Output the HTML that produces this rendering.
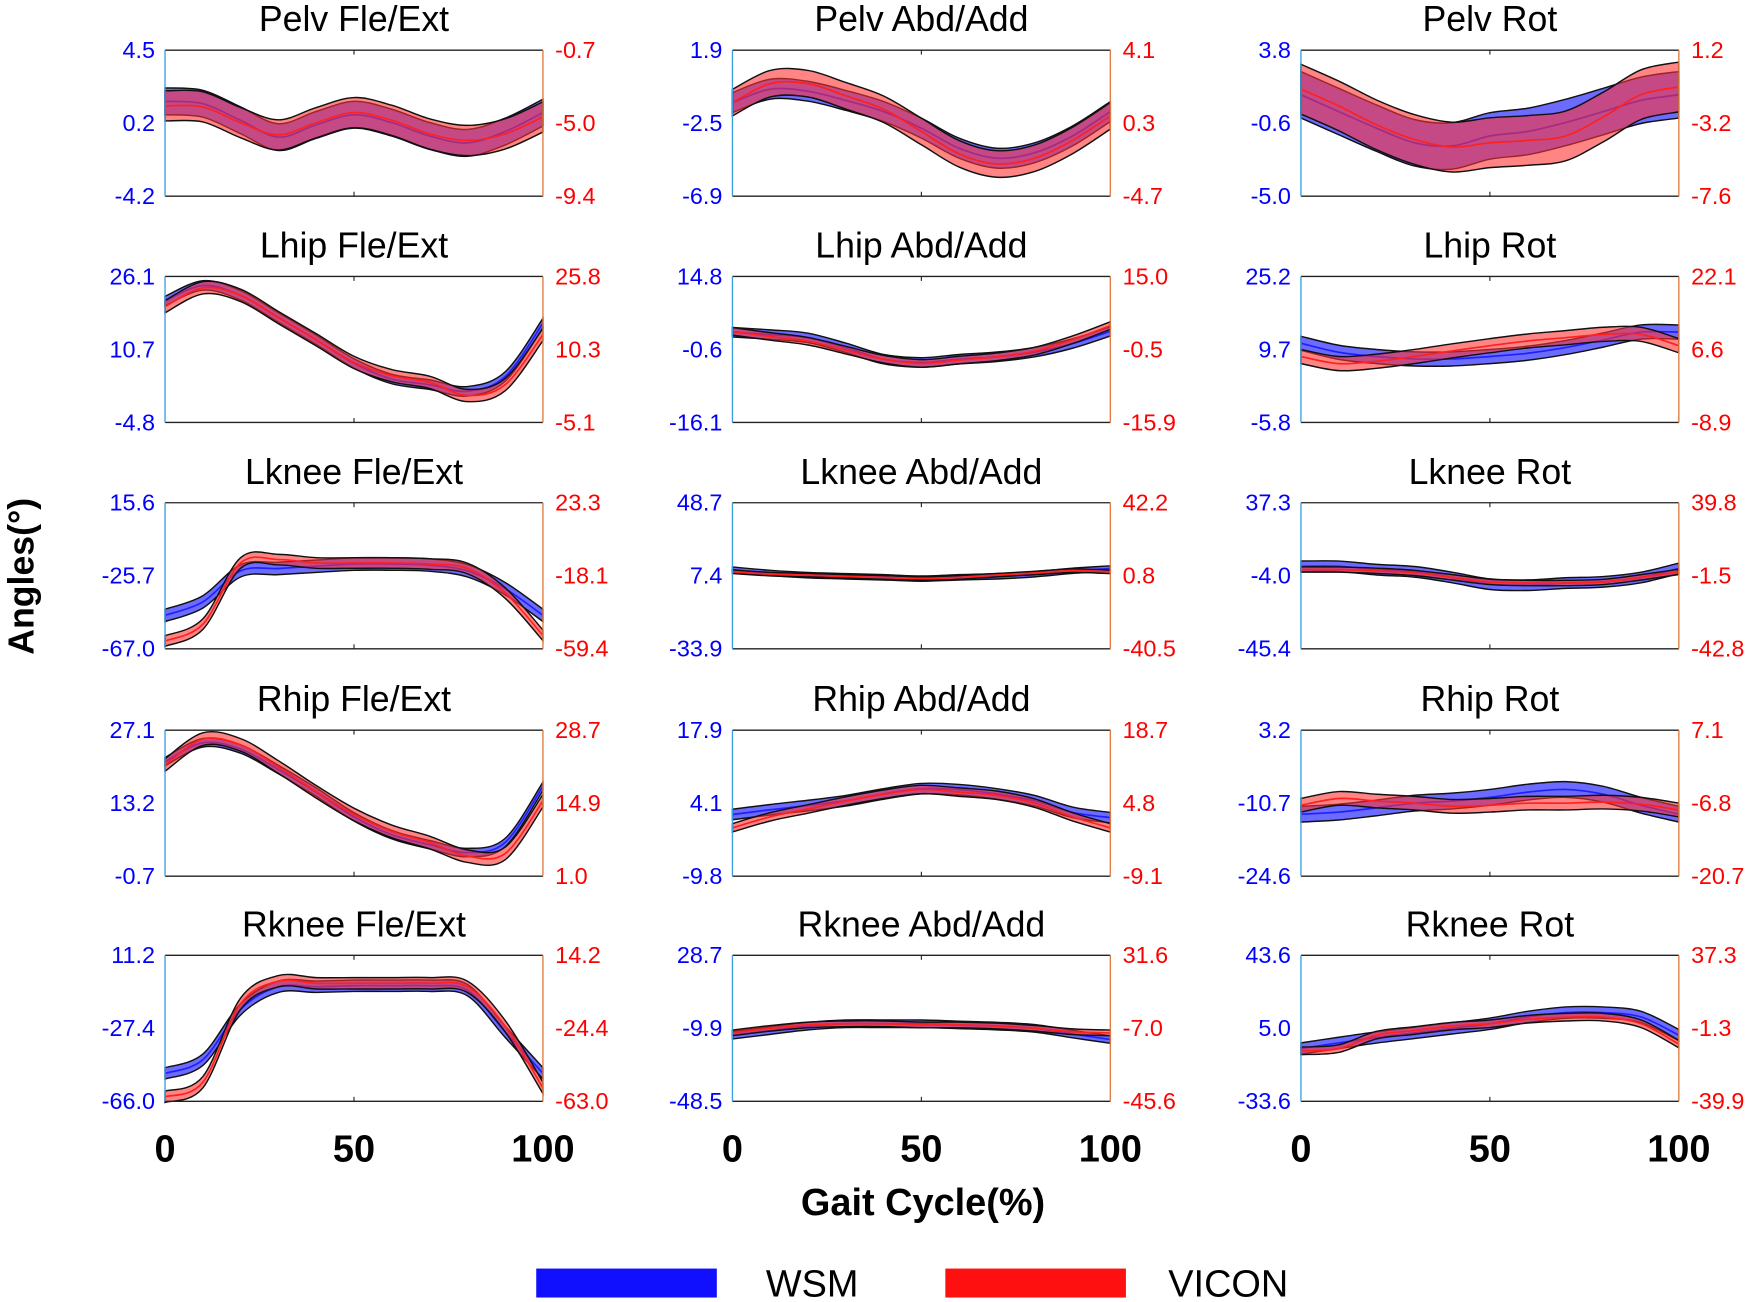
<!DOCTYPE html>
<html><head><meta charset="utf-8"><style>
html,body{margin:0;padding:0;background:#fff}
svg{display:block}
text{font-family:"Liberation Sans",Arial,sans-serif}
</style></head><body>
<svg id="fig" width="1748" height="1302" viewBox="0 0 1568 1168" xmlns="http://www.w3.org/2000/svg">
<text x="0" y="0" transform="translate(30,517) rotate(-90)" text-anchor="middle" font-size="32" font-weight="bold">Angles(°)</text>
<text x="828" y="1090" text-anchor="middle" font-size="34" font-weight="bold">Gait Cycle(%)</text>
<rect x="481" y="1138" width="162" height="26" fill="#1010ff"/>
<text x="687" y="1163" font-size="34">WSM</text>
<rect x="848" y="1138" width="162" height="26" fill="#ff1010"/>
<text x="1048" y="1163" font-size="34">VICON</text>
<g id="panels"></g>
</svg>
<script>
const titles=["Pelv Fle/Ext","Pelv Abd/Add","Pelv Rot","Lhip Fle/Ext","Lhip Abd/Add","Lhip Rot","Lknee Fle/Ext","Lknee Abd/Add","Lknee Rot","Rhip Fle/Ext","Rhip Abd/Add","Rhip Rot","Rknee Fle/Ext","Rknee Abd/Add","Rknee Rot"];
const leftMin=[-4.2,-6.9,-5.0,-4.8,-16.1,-5.8,-67.0,-33.9,-45.4,-0.7,-9.8,-24.6,-66.0,-48.5,-33.6];
const leftMax=[4.5,1.9,3.8,26.1,14.8,25.2,15.6,48.7,37.3,27.1,17.9,3.2,11.2,28.7,43.6];
const leftMidLabel=[0.2,-2.5,-0.6,10.7,-0.6,9.7,-25.7,7.4,-4.0,13.2,4.1,-10.7,-27.4,-9.9,5.0];
const rightMin=[-9.4,-4.7,-7.6,-5.1,-15.9,-8.9,-59.4,-40.5,-42.8,1.0,-9.1,-20.7,-63.0,-45.6,-39.9];
const rightMax=[-0.7,4.1,1.2,25.8,15.0,22.1,23.3,42.2,39.8,28.7,18.7,7.1,14.2,31.6,37.3];
const rightMidLabel=[-5.0,0.3,-3.2,10.3,-0.5,6.6,-18.1,0.8,-1.5,14.9,4.8,-6.8,-24.4,-7.0,-1.3];
const gaitPct=[0,10,20,30,40,50,60,70,80,90,100];
const xTicks=[0,50,100];
const wsmMean=[
[1.45,1.31,0.32,-0.68,0.05,0.65,0.18,-0.61,-1.02,-0.35,0.78],
[-1.26,-0.45,-0.58,-1.13,-1.8,-2.8,-4.01,-4.61,-4.28,-3.27,-1.8],
[1.11,0.1,-0.9,-1.78,-1.97,-1.37,-1.1,-0.56,0.1,0.78,1.11],
[20.9,24.2,22.1,17.4,12.7,7.7,4.4,3.2,1.8,4.9,16.2],
[3.0,2.5,1.8,-0.3,-2.7,-3.4,-2.7,-2.2,-1.2,0.6,3.2],
[11.0,9.1,8.2,7.7,7.7,8.2,8.9,10.1,11.7,13.4,13.4],
[-48.1,-40.5,-22.9,-21.6,-20.3,-19.1,-19.1,-19.7,-22.9,-33.0,-48.1],
[10.9,9.0,7.7,7.1,6.5,5.8,6.5,7.1,8.3,10.2,11.5],
[1.3,1.3,-0.6,-1.8,-5.0,-8.8,-9.4,-8.2,-7.5,-5.0,0.1],
[21.1,24.7,23.5,19.6,15.3,10.6,7.2,5.3,3.8,5.7,16.4],
[1.9,2.8,3.6,4.5,5.8,6.8,6.6,5.8,4.5,2.3,1.3],
[-12.8,-12.4,-11.6,-10.7,-10.3,-9.6,-8.6,-8.1,-9.0,-11.1,-12.8],
[-51.2,-44.0,-17.3,-5.4,-5.4,-4.9,-4.9,-4.9,-7.2,-29.2,-51.2],
[-13.5,-11.1,-8.7,-7.5,-7.5,-7.5,-8.1,-8.7,-9.9,-12.9,-15.8],
[-5.7,-2.7,0.2,2.6,5.0,7.4,11.0,13.3,13.3,11.0,1.4]];
const wsmSd=[0.8,0.6,1.4,1.0,1.0,1.5,3.5,1.5,3.0,0.8,1.0,1.5,3.0,2.0,3.0];
const viconMean=[
[-4.02,-4.08,-5.02,-5.75,-5.02,-4.42,-4.88,-5.69,-6.08,-5.69,-4.68],
[0.94,2.08,2.08,1.35,0.54,-0.8,-2.15,-2.76,-2.41,-1.34,0.14],
[-1.15,-2.16,-3.3,-4.18,-4.64,-4.38,-4.24,-3.97,-2.83,-1.48,-1.02],
[19.4,23.4,21.8,17.1,12.4,7.6,4.8,3.4,0.6,2.9,13.5],
[3.4,2.3,1.3,-0.6,-2.5,-3.4,-2.7,-2.0,-0.8,1.6,4.6],
[5.1,3.6,4.1,5.1,6.3,7.4,8.4,9.1,9.8,9.8,7.4],
[-55.0,-45.5,-10.8,-8.9,-10.8,-10.8,-10.8,-11.4,-13.9,-27.8,-51.8],
[3.1,1.8,1.2,0.5,-0.1,-0.7,-0.1,1.2,2.4,3.7,3.1],
[2.0,2.0,1.3,0.1,-2.4,-5.0,-5.6,-5.6,-5.0,-2.4,0.7],
[22.1,27.0,25.9,21.7,17.0,12.7,9.5,7.4,4.8,5.3,15.3],
[0.1,2.2,3.7,5.2,6.5,7.4,6.9,6.3,4.8,2.2,0.1],
[-7.2,-5.9,-6.4,-6.8,-7.4,-7.2,-6.8,-6.8,-6.6,-7.0,-8.1],
[-60.6,-52.9,-11.4,0.5,-0.6,-0.6,-0.6,-0.6,-2.4,-23.2,-55.9],
[-9.4,-7.0,-5.2,-4.6,-4.6,-5.2,-5.2,-5.8,-7.0,-8.8,-9.4],
[-13.2,-12.0,-4.9,-2.5,-0.1,1.1,3.5,4.6,4.6,1.1,-9.6]];
const viconSd=[0.9,0.8,1.5,1.3,0.8,1.5,3.0,1.0,1.5,1.2,0.8,1.3,3.0,1.5,2.0];

const NS="http://www.w3.org/2000/svg";
const colX=[148,657,1167], plotW=339;
const rowY=[45,248,451,655,857], plotH=131;
const g=document.getElementById('panels');
function mk(tag,attrs,parent){const e=document.createElementNS(NS,tag);for(const k in attrs)e.setAttribute(k,attrs[k]);(parent||g).appendChild(e);return e;}
function smooth(pts){let d="M"+pts[0][0]+","+pts[0][1];for(let i=0;i<pts.length-1;i++){const p0=pts[Math.max(0,i-1)],p1=pts[i],p2=pts[i+1],p3=pts[Math.min(pts.length-1,i+2)];const c1=[p1[0]+(p2[0]-p0[0])/6,p1[1]+(p2[1]-p0[1])/6],c2=[p2[0]-(p3[0]-p1[0])/6,p2[1]-(p3[1]-p1[1])/6];d+=" C"+c1[0].toFixed(1)+","+c1[1].toFixed(1)+" "+c2[0].toFixed(1)+","+c2[1].toFixed(1)+" "+p2[0].toFixed(1)+","+p2[1].toFixed(1);}return d;}
function smoothCont(pts){return smooth(pts).replace(/^M/,"L");}
const fmt=v=>v.toFixed(1);
titles.forEach((t,i)=>{
  const x0=colX[i%3], y0=rowY[Math.floor(i/3)];
  const xs=p=>x0+p/100*plotW;
  const yl=v=>y0+plotH-(v-leftMin[i])/(leftMax[i]-leftMin[i])*plotH;
  const yr=v=>y0+plotH-(v-rightMin[i])/(rightMax[i]-rightMin[i])*plotH;
  const pg=mk('g',{});
  
  
  const tt=mk('text',{x:x0+plotW/2,y:y0-17,'text-anchor':'middle','font-size':32},pg);tt.textContent=t;
  
  
  const bands=[[wsmMean[i],wsmSd[i],yl,'rgba(50,50,255,0.72)','#2020ff','wsm'],[viconMean[i],viconSd[i],yr,'rgba(255,50,50,0.6)','#ff2020','vicon']];
  bands.forEach(([m,s,ys,fill,lc,nm])=>{
    const up=gaitPct.map((p,k)=>[xs(p),ys(m[k]+s)]);
    const lo=gaitPct.map((p,k)=>[xs(p),ys(m[k]-s)]).reverse();
    const b=mk('path',{d:smooth(up)+" "+smoothCont(lo)+" Z",fill:fill,stroke:'#111','stroke-width':1.3},pg);
    
    
    const ml=mk('path',{d:smooth(gaitPct.map((p,k)=>[xs(p),ys(m[k])])),fill:'none',stroke:lc,'stroke-width':1.5},pg);
    
    
  });
  mk('line',{x1:x0,y1:y0,x2:x0+plotW,y2:y0,stroke:'#222','stroke-width':1.2},pg);
  mk('line',{x1:x0,y1:y0+plotH,x2:x0+plotW,y2:y0+plotH,stroke:'#222','stroke-width':1.2},pg);
  mk('line',{x1:x0,y1:y0,x2:x0,y2:y0+plotH,stroke:'#3aa0e0','stroke-width':1.2},pg);
  mk('line',{x1:x0+plotW,y1:y0,x2:x0+plotW,y2:y0+plotH,stroke:'#e07a40','stroke-width':1.2},pg);
  mk('line',{x1:xs(50),y1:y0,x2:xs(50),y2:y0+4,stroke:'#222'},pg);
  mk('line',{x1:xs(50),y1:y0+plotH,x2:xs(50),y2:y0+plotH-4,stroke:'#222'},pg);
  const lmidPos=(leftMin[i]+leftMax[i])/2, rmidPos=(rightMin[i]+rightMax[i])/2;
  [[leftMax[i],leftMax[i]],[lmidPos,leftMidLabel[i]],[leftMin[i],leftMin[i]]].forEach(([v,lab])=>{const e=mk('text',{x:x0-9,y:yl(v)+7,'text-anchor':'end','font-size':21,fill:'#0000ff'},pg);e.textContent=fmt(lab);
    
    });
  [[rightMax[i],rightMax[i]],[rmidPos,rightMidLabel[i]],[rightMin[i],rightMin[i]]].forEach(([v,lab])=>{const e=mk('text',{x:x0+plotW+11,y:yr(v)+7,'font-size':21,fill:'#ff0000'},pg);e.textContent=fmt(lab);
    
    });
  if(i>=12){xTicks.forEach(v=>{const e=mk('text',{x:xs(v),y:1042,'text-anchor':'middle','font-size':34,'font-weight':'bold'},pg);e.textContent=v;
    
    });}
});
</script>
</body></html>
